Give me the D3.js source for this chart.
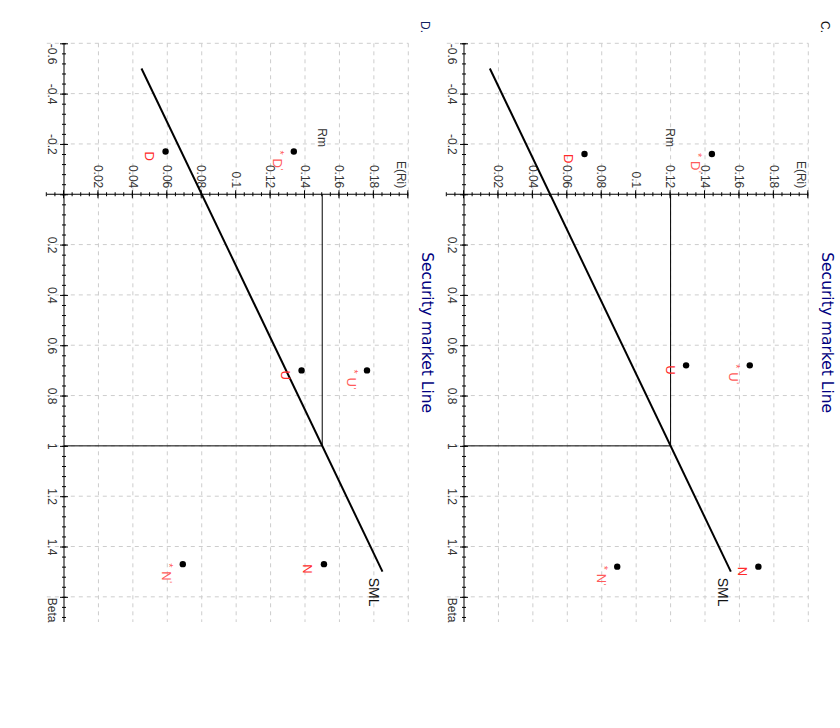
<!DOCTYPE html>
<html>
<head>
<meta charset="utf-8">
<script src="https://cdn.jsdelivr.net/npm/d3@7"></script>
<style>
  html, body { margin: 0; padding: 0; background: #fff; }
  svg { display: block; }
</style>
</head>
<body>
<svg id="chart" width="840" height="728"></svg>
<script>
// ---------- data ----------
const panelLabels = ["C.", "D."];
const chartTitle = "Security market Line";
const riskFree = [0.05, 0.08];
const marketReturn = [0.12, 0.15];
const smlBetaRange = [-0.5, 1.5];
const stockNames = ["D", "U", "N"];
const stockBetasC = [-0.16, 0.68, 1.48];
const stockBetasD = [-0.17, 0.70, 1.47];
const returnsC = [0.070, 0.129, 0.171];
const returnsD = [0.059, 0.138, 0.151];
const starReturnsC = [0.144, 0.166, 0.089];
const starReturnsD = [0.1335, 0.176, 0.069];
const betaTicks = [-0.6, -0.4, -0.2, 0, 0.2, 0.4, 0.6, 0.8, 1, 1.2, 1.4, 1.6];
const betaTickLabels = ["-0.6", "-0.4", "-0.2", "", "0.2", "0.4", "0.6", "0.8", "1", "1.2", "1.4", "Beta"];
const returnTicks = [0, 0.02, 0.04, 0.06, 0.08, 0.1, 0.12, 0.14, 0.16, 0.18, 0.2];
const returnTickLabels = ["", "0.02", "0.04", "0.06", "0.08", "0.1", "0.12", "0.14", "0.16", "0.18", "E(Ri)"];

const panels = [
  { label: panelLabels[0], rf: riskFree[0], rm: marketReturn[0], betas: stockBetasC, ret: returnsC, star: starReturnsC },
  { label: panelLabels[1], rf: riskFree[1], rm: marketReturn[1], betas: stockBetasD, ret: returnsD, star: starReturnsD }
];

// ---------- drawing ----------
const svg = d3.select("#chart");
// the whole chart is drawn upright (728 x 840) and then turned a quarter turn clockwise
const root = svg.append("g").attr("transform", "translate(840,0) rotate(90)");

const FONT = "'Liberation Sans', Arial, sans-serif";
const x = d3.scaleLinear().domain([-0.6, 1.7]).range([43.3, 622]);

panels.forEach((p, pi) => {
  const oy = pi * 400;
  const g = root.append("g").attr("transform", `translate(0,${oy})`);
  const y = d3.scaleLinear().domain([-0.01, 0.2]).range([393.2, 31.7]);

  // grid
  const grid = g.append("g").attr("stroke", "#cdcdcd").attr("stroke-dasharray", "4,4").attr("stroke-width", 1);
  grid.selectAll("line.v").data(betaTicks.filter(d => d !== 0)).join("line")
    .attr("x1", d => x(d)).attr("x2", d => x(d))
    .attr("y1", y(-0.01)).attr("y2", y(0.2));
  grid.selectAll("line.h").data(returnTicks.filter(d => d !== 0)).join("line")
    .attr("x1", x(-0.6)).attr("x2", x(1.7))
    .attr("y1", d => y(d)).attr("y2", d => y(d));

  // beta axis (at E = 0)
  const betaMinor = d3.range(-0.6, 1.7001, 0.04).map(v => +v.toFixed(2));
  const bx = g.append("g").attr("transform", `translate(0,${y(0)})`);
  bx.call(d3.axisBottom(x).tickValues(betaMinor).tickSize(2).tickFormat(""));
  bx.selectAll(".tick line").attr("y1", -2).attr("stroke", "#000");
  bx.select(".domain").remove();
  const bxMaj = g.append("g").attr("transform", `translate(0,${y(0)})`);
  bxMaj.call(d3.axisBottom(x).tickValues(betaTicks).tickSize(4).tickFormat((d, i) => betaTickLabels[i]));
  bxMaj.select(".domain").attr("stroke", "#000").attr("d", `M${x(-0.6)},0H${x(1.7)}`);
  bxMaj.selectAll(".tick line").attr("y1", -4).attr("stroke", "#000");
  bxMaj.selectAll(".tick text")
    .attr("font-family", FONT).attr("font-size", 12).attr("fill", "#333")
    .attr("y", 16).attr("dy", null)
    .attr("text-anchor", (d, i) => i === 0 ? "start" : (i === betaTicks.length - 1 ? "end" : "middle"))
    .attr("x", (d, i) => i === betaTicks.length - 1 ? x(1.7) - x(1.6) : 0);

  // return axis (at beta = 0)
  const retMinor = d3.range(-0.01, 0.2001, 0.005).map(v => +v.toFixed(3));
  const ry = g.append("g").attr("transform", `translate(${x(0)},0)`);
  ry.call(d3.axisLeft(y).tickValues(retMinor).tickSize(2).tickFormat(""));
  ry.selectAll(".tick line").attr("x1", 2).attr("stroke", "#000");
  ry.select(".domain").remove();
  const ryMaj = g.append("g").attr("transform", `translate(${x(0)},0)`);
  ryMaj.call(d3.axisLeft(y).tickValues(returnTicks).tickSize(4).tickFormat((d, i) => returnTickLabels[i]));
  ryMaj.select(".domain").attr("stroke", "#000").attr("d", `M0,${y(-0.01)}V${y(0.2)}`);
  ryMaj.selectAll(".tick line").attr("x1", 4).attr("stroke", "#000");
  ryMaj.selectAll(".tick text")
    .attr("font-family", FONT).attr("font-size", 12).attr("fill", "#333")
    .attr("x", -6).attr("text-anchor", "end")
    .attr("y", (d, i) => i === returnTicks.length - 1 ? 6.6 : 0);

  // market return guide lines
  g.append("path")
    .attr("d", `M${x(0)},${y(p.rm)}H${x(1)}V${y(0)}`)
    .attr("fill", "none").attr("stroke", "#000").attr("stroke-width", 1);
  g.append("text").text("Rm")
    .attr("x", 147).attr("y", y(p.rm)).attr("dy", "0.35em")
    .attr("text-anchor", "end").attr("font-family", FONT).attr("font-size", 12).attr("fill", "#333");

  // SML
  const sml = smlBetaRange.map(b => [b, p.rf + b * (p.rm - p.rf)]);
  g.append("path")
    .attr("d", d3.line().x(d => x(d[0])).y(d => y(d[1]))(sml))
    .attr("fill", "none").attr("stroke", "#000").attr("stroke-width", 2);
  g.append("text").text("SML")
    .attr("x", x(sml[1][0]) + 6).attr("y", y(sml[1][1]) + 13)
    .attr("font-family", FONT).attr("font-size", 14).attr("fill", "#111");

  // stocks
  stockNames.forEach((name, i) => {
    const bx0 = x(p.betas[i]);
    [p.ret[i], p.star[i]].forEach((r, k) => {
      const yy = y(r);
      g.append("circle").attr("cx", bx0).attr("cy", yy).attr("r", 3.2).attr("fill", "#000");
      if (k === 0) {
        g.append("text").text(name)
          .attr("x", bx0).attr("y", yy + 20.5)
          .attr("font-family", FONT).attr("font-size", 13).attr("fill", "#ff2a2a");
      } else {
        g.append("text").text("*")
          .attr("x", bx0 - 1).attr("y", yy + 17.5)
          .attr("font-family", FONT).attr("font-size", 11).attr("fill", "#ff5a5a");
        g.append("text").text(name)
          .attr("x", bx0 + 7).attr("y", yy + 20.5)
          .attr("font-family", FONT).attr("font-size", 13).attr("fill", "#ff5a5a");
        g.append("text").text("'")
          .attr("x", bx0 + 17).attr("y", yy + 17)
          .attr("font-family", FONT).attr("font-size", 9).attr("fill", "#ff5a5a");
      }
    });
  });

  // title and panel letter
  g.append("text").text(chartTitle)
    .attr("x", (x(-0.6) + x(1.7)) / 2).attr("y", 18.3).attr("text-anchor", "middle")
    .attr("font-family", "'DejaVu Sans', Verdana, sans-serif").attr("font-size", 15.5).attr("fill", "#000080");
  g.append("text").text(p.label)
    .attr("x", 21).attr("y", 19)
    .attr("font-family", FONT).attr("font-size", 12).attr("fill", pi === 0 ? "#111" : "#102060");
});
</script>
</body>
</html>
